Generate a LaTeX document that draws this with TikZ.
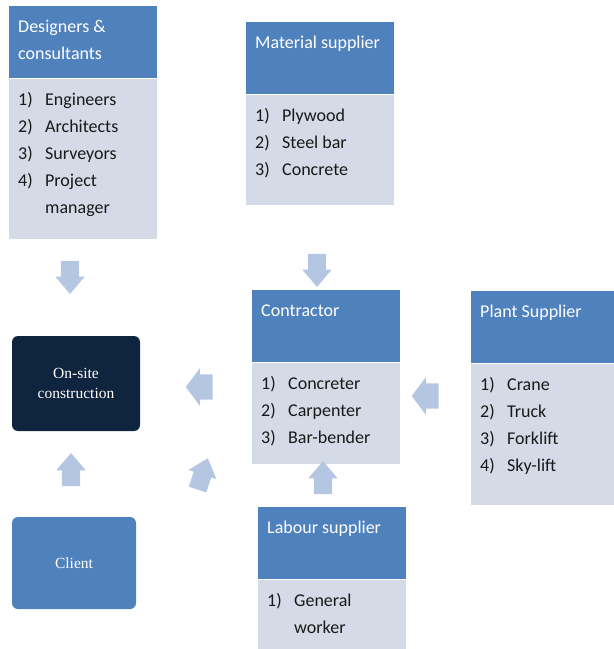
\documentclass[tikz,border=0pt]{standalone}
\usepackage{fontspec}
\setmainfont{Carlito}
\newfontfamily\boxserif{Liberation Serif}
\usetikzlibrary{positioning,shapes.arrows}
\definecolor{hdrblue}{HTML}{4F81BD}
\definecolor{listgray}{RGB}{212,218,230}
\definecolor{sitenavy}{HTML}{0F243E}
\definecolor{arrowblue}{RGB}{180,198,226}
\definecolor{listink}{RGB}{25,25,25}

\newcommand{\hdrtext}[2][130pt]{\parbox[t][58pt][t]{#1}{\strut #2}}
\newcommand{\listtext}[3][130pt]{\parbox[t][#2][t]{#1}{#3}}
\newcommand{\itm}[2]{\strut\makebox[27pt][l]{#1}#2}

\begin{document}
\begin{tikzpicture}[
  x=1pt, y=-1pt,
  hdrbox/.style={
    fill=hdrblue, text=white, anchor=north west,
    inner xsep=9pt, inner ysep=7pt,
    font=\fontsize{18}{27}\selectfont
  },
  listbox/.style={
    fill=listgray, text=listink,
    inner xsep=9pt, inner ysep=8pt,
    font=\fontsize{18}{27}\selectfont
  },
  vtarrow/.style={
    single arrow, fill=arrowblue,
    text height=0pt, text depth=0pt, inner xsep=0pt, inner ysep=9pt,
    minimum height=33pt,
    single arrow head extend=5.5pt, single arrow tip angle=81
  },
  hzarrow/.style={
    single arrow, fill=arrowblue,
    text height=0pt, text depth=0pt, inner xsep=0pt, inner ysep=12.5pt,
    minimum height=27pt,
    single arrow head extend=6pt, single arrow tip angle=106
  },
  sitebox/.style={
    rounded corners=6pt, text=white, align=center,
    font=\boxserif\fontsize{15.5}{20}\selectfont
  }
]
\useasboundingbox (0,0) rectangle (614,649);

%% Designers & consultants
\node[hdrbox] (desH) at (9,6) {\hdrtext{Designers \&\\consultants}};
\node[listbox, below=0pt of desH] (desB)
  {\listtext{144pt}{\itm{1)}{Engineers}\\\itm{2)}{Architects}\\
   \itm{3)}{Surveyors}\\\itm{4)}{Project}\\\itm{}{manager}}};

%% Material supplier
\node[hdrbox] (matH) at (246,22) {\hdrtext{Material supplier}};
\node[listbox, below=0pt of matH] (matB)
  {\listtext{94pt}{\itm{1)}{Plywood}\\\itm{2)}{Steel bar}\\\itm{3)}{Concrete}}};

%% Contractor
\node[hdrbox] (conH) at (252,290) {\hdrtext{Contractor}};
\node[listbox, below=0pt of conH] (conB)
  {\listtext{85pt}{\itm{1)}{Concreter}\\\itm{2)}{Carpenter}\\\itm{3)}{Bar-bender}}};

%% Plant Supplier
\node[hdrbox] (plaH) at (471,291) {\hdrtext[125pt]{Plant Supplier}};
\node[listbox, below=0pt of plaH] (plaB)
  {\listtext[125pt]{125pt}{\itm{1)}{Crane}\\\itm{2)}{Truck}\\
   \itm{3)}{Forklift}\\\itm{4)}{Sky-lift}}};

%% Labour supplier
\node[hdrbox] (labH) at (258,507) {\hdrtext{Labour supplier}};
\node[listbox, below=0pt of labH] (labB)
  {\listtext{54pt}{\itm{1)}{General}\\\itm{}{worker}}};

%% On-site construction and client
\node[sitebox, fill=sitenavy, minimum width=128pt, minimum height=95pt]
  (onsite) at (76,383.5) {On-site\\construction};
\node[sitebox, fill=hdrblue, minimum width=124pt, minimum height=92pt]
  (client) at (74,563) {Client};

%% Block arrows
\node[vtarrow, rotate=-90] (arrDes) at (70,272) {};
\node[vtarrow, rotate=-90] (arrMat) at (317,265) {};
\node[hzarrow, rotate=180] (arrCon) at (204,387) {};
\node[hzarrow, rotate=180] (arrPla) at (430,396) {};
\node[vtarrow, rotate=90] (arrLab) at (323,483) {};
\node[vtarrow, rotate=90] (arrCli) at (71,475) {};
\node[vtarrow, rotate=72] (arrDiag) at (201,479) {};

\end{tikzpicture}
\end{document}
